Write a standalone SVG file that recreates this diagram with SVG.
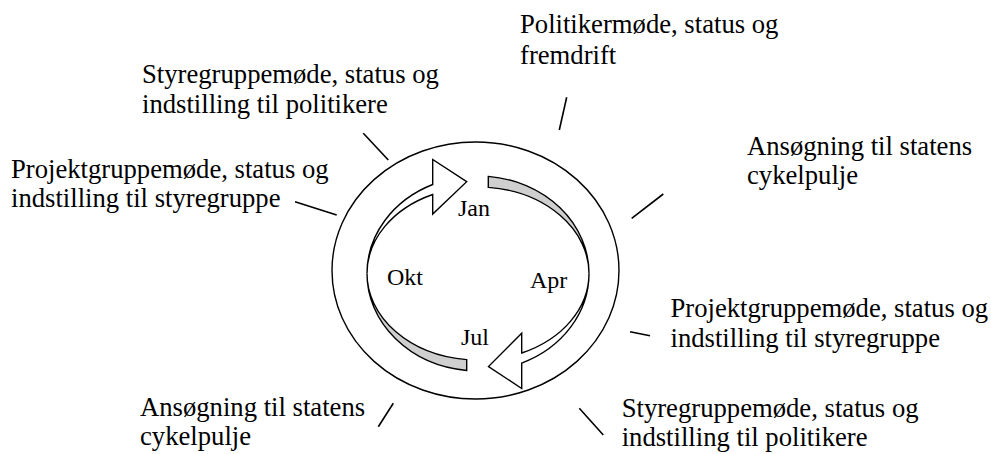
<svg xmlns="http://www.w3.org/2000/svg" width="991" height="454" viewBox="0 0 991 454">
<style>
.lbl{font-family:"Liberation Serif","Times New Roman",serif;font-size:26.67px;fill:#000}
.mon{font-family:"Liberation Serif","Times New Roman",serif;font-size:24px;fill:#000}
.tick{stroke:#000;stroke-width:1.6;fill:none}
.ring{stroke:#000;stroke-width:1.4;fill:none}
.back{fill:#cfcfcf;stroke:#000;stroke-width:1.4;stroke-linejoin:miter}
.front{fill:#fff;stroke:#000;stroke-width:1.4;stroke-linejoin:miter}
</style>
<rect width="991" height="454" fill="#fff"/>
<g id="cycle">
  <ellipse class="ring" cx="475.5" cy="270.5" rx="143.5" ry="128.5" fill="#fff"/>
  <path class="back" d="M 466.7 370.5 A 111 97.5 0 0 1 367 273.5 A 111 86.5 0 0 0 466.7 359.6 Z"/>
  <path class="back" d="M 488.3 176.4 A 111 97.5 0 0 1 589 273.5 A 111 86.5 0 0 0 488.3 187.4 Z"/>
  <path class="front" d="M 367 273.5 A 111 97.5 0 0 1 432.7 184.5 L 432.7 159.5 L 466.7 181.7 L 432.7 214 L 432.7 194.5 A 111 86.5 0 0 0 367 273.5 Z"/>
  <path class="front" d="M 589 273.5 A 111 97.5 0 0 1 521.7 363.1 L 521.7 388.5 L 488.5 366.6 L 521.7 333.3 L 521.7 353 A 111 86.5 0 0 0 589 273.5 Z"/>
  <text class="mon" x="458" y="216">Jan</text>
  <text class="mon" x="530" y="288">Apr</text>
  <text class="mon" x="461" y="345">Jul</text>
  <text class="mon" x="387" y="285">Okt</text>
</g>
<g id="connectors">
  <line class="tick" x1="566.7" y1="97.3" x2="559.3" y2="130"/>
  <line class="tick" x1="363.3" y1="133.3" x2="388.3" y2="160"/>
  <line class="tick" x1="295" y1="201.7" x2="336.7" y2="215"/>
  <line class="tick" x1="663.3" y1="194" x2="631.7" y2="218.3"/>
  <line class="tick" x1="630" y1="331.7" x2="650" y2="335.7"/>
  <line class="tick" x1="393.3" y1="403.3" x2="378.3" y2="426.7"/>
  <line class="tick" x1="579.3" y1="408.3" x2="603.3" y2="435"/>
</g>
<g id="label-politiker">
  <text class="lbl" x="520" y="33">Politikermøde, status og</text>
  <text class="lbl" x="520" y="63.5">fremdrift</text>
</g>
<g id="label-styre-top">
  <text class="lbl" x="142" y="83.3">Styregruppemøde, status og</text>
  <text class="lbl" x="142" y="112.7">indstilling til politikere</text>
</g>
<g id="label-projekt-left">
  <text class="lbl" x="11" y="177.7">Projektgruppemøde, status og</text>
  <text class="lbl" x="11" y="206.7">indstilling til styregruppe</text>
</g>
<g id="label-ansoegning-right">
  <text class="lbl" x="747" y="155">Ansøgning til statens</text>
  <text class="lbl" x="747" y="184">cykelpulje</text>
</g>
<g id="label-projekt-right">
  <text class="lbl" x="670.5" y="317.3">Projektgruppemøde, status og</text>
  <text class="lbl" x="670.5" y="346.7">indstilling til styregruppe</text>
</g>
<g id="label-ansoegning-left">
  <text class="lbl" x="140" y="416">Ansøgning til statens</text>
  <text class="lbl" x="140" y="445">cykelpulje</text>
</g>
<g id="label-styre-bottom">
  <text class="lbl" x="621.7" y="416.7">Styregruppemøde, status og</text>
  <text class="lbl" x="621.7" y="446">indstilling til politikere</text>
</g>
</svg>
